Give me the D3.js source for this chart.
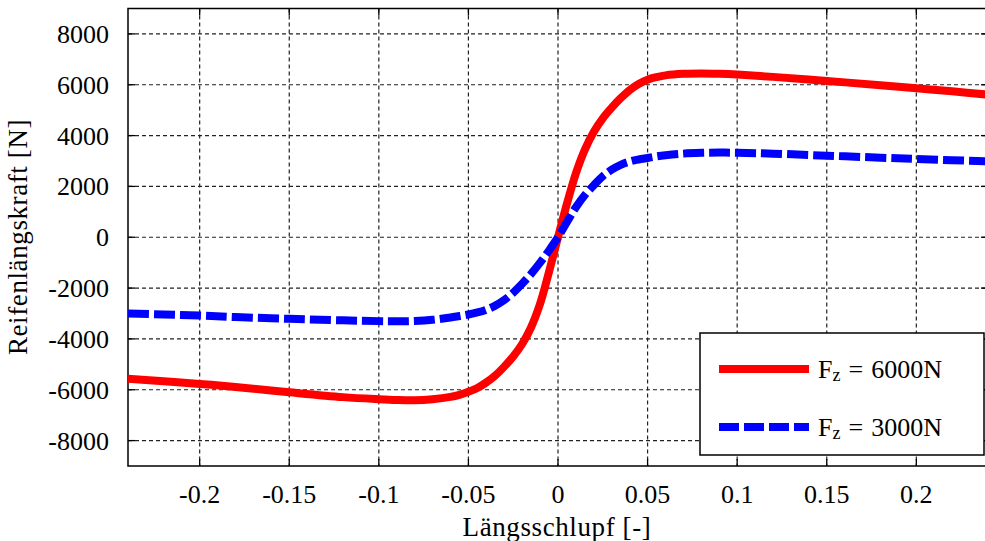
<!DOCTYPE html>
<html><head><meta charset="utf-8">
<script src="https://cdn.jsdelivr.net/npm/d3@7"></script>
<style>
body{margin:0;background:#fff;}
svg text{font-family:"Liberation Serif","Times New Roman",serif;fill:#000;}
</style></head>
<body><svg id="c" width="985" height="541"></svg>
<script>
// slip values (x) and longitudinal forces
const slip = [-0.24,-0.22,-0.2,-0.18,-0.15,-0.12,-0.1,-0.09,-0.08,-0.07,-0.06,-0.055,-0.05,-0.045,-0.04,-0.035,-0.03,-0.025,-0.02,-0.015,-0.01,-0.005,0,
  0.005,0.01,0.015,0.02,0.025,0.03,0.035,0.04,0.045,0.05,0.055,0.06,0.07,0.08,0.09,0.1,0.12,0.15,0.18,0.2,0.22,0.24];
const force6000 = [-5570,-5670,-5770,-5890,-6100,-6290,-6370,-6400,-6410,-6370,-6280,-6200,-6080,-5930,-5710,-5440,-5090,-4690,-4200,-3540,-2620,-1360,0,
  1320,2520,3450,4150,4680,5100,5470,5790,6030,6200,6300,6370,6430,6445,6430,6400,6310,6150,5980,5860,5740,5610];
const force3000 = [-3000,-3040,-3080,-3140,-3210,-3270,-3300,-3305,-3295,-3250,-3160,-3100,-3040,-2960,-2850,-2690,-2470,-2180,-1830,-1440,-1000,-520,0,
  600,1180,1660,2050,2400,2660,2850,2980,3060,3120,3180,3225,3290,3320,3330,3325,3290,3210,3130,3080,3030,2990];
const xTicks = [-0.2,-0.15,-0.1,-0.05,0,0.05,0.1,0.15,0.2];
const xTickLabels = ["-0.2","-0.15","-0.1","-0.05","0","0.05","0.1","0.15","0.2"];
const yTicks = [-8000,-6000,-4000,-2000,0,2000,4000,6000,8000];
const yTickLabels = ["-8000","-6000","-4000","-2000","0","2000","4000","6000","8000"];
const seriesNames = ["6000N","3000N"];

const svg = d3.select("#c");
const L=128, R=988, T=8.5, B=466;
const x = d3.scaleLinear().domain([-0.24,0.24]).range([L,R]);
const y = d3.scaleLinear().domain([-9000,9000]).range([B,T]);

// grid
const g = svg.append("g");
g.selectAll(".gx").data(xTicks).enter().append("line")
  .attr("x1",d=>x(d)).attr("x2",d=>x(d)).attr("y1",T).attr("y2",B)
  .attr("stroke","#222").attr("stroke-width",1.2).attr("stroke-dasharray","4,3");
g.selectAll(".gy").data(yTicks).enter().append("line")
  .attr("y1",d=>y(d)).attr("y2",d=>y(d)).attr("x1",L).attr("x2",R)
  .attr("stroke","#222").attr("stroke-width",1.2).attr("stroke-dasharray","4,3");

// ticks (inward)
const tl = 7;
xTicks.forEach(d=>{
  g.append("line").attr("x1",x(d)).attr("x2",x(d)).attr("y1",B).attr("y2",B-tl).attr("stroke","#000").attr("stroke-width",1.3);
  g.append("line").attr("x1",x(d)).attr("x2",x(d)).attr("y1",T).attr("y2",T+tl).attr("stroke","#000").attr("stroke-width",1.3);
});
yTicks.forEach(d=>{
  g.append("line").attr("x1",L).attr("x2",L+tl).attr("y1",y(d)).attr("y2",y(d)).attr("stroke","#000").attr("stroke-width",1.3);
  g.append("line").attr("x1",R).attr("x2",R-tl).attr("y1",y(d)).attr("y2",y(d)).attr("stroke","#000").attr("stroke-width",1.3);
});

// frame
svg.append("rect").attr("x",L).attr("y",T).attr("width",R-L).attr("height",B-T)
  .attr("fill","none").attr("stroke","#000").attr("stroke-width",1.5);

// tick labels
svg.selectAll(".xl").data(xTicks).enter().append("text")
  .attr("x",d=>x(d)).attr("y",503).attr("text-anchor","middle").attr("font-size",26)
  .text((d,i)=>xTickLabels[i]);
svg.selectAll(".yl").data(yTicks).enter().append("text")
  .attr("x",109).attr("y",d=>y(d)+9).attr("text-anchor","end").attr("font-size",26)
  .text((d,i)=>yTickLabels[i]);

// axis titles
svg.append("text").attr("x",557).attr("y",536).attr("text-anchor","middle")
  .attr("font-size",27).attr("letter-spacing",0.6).text("Längsschlupf [-]");
svg.append("text").attr("transform","translate(27,237) rotate(-90)").attr("text-anchor","middle")
  .attr("font-size",27).attr("letter-spacing",0.6).text("Reifenlängskraft [N]");

// curves
svg.append("clipPath").attr("id","pc").append("rect")
  .attr("x",L).attr("y",T).attr("width",R-L).attr("height",B-T);
const line = d3.line().x(d=>x(d[0])).y(d=>y(d[1])).curve(d3.curveCatmullRom.alpha(0.5));
const d6 = slip.map((s,i)=>[s,force6000[i]]);
const d3k = slip.map((s,i)=>[s,force3000[i]]);
svg.append("path").attr("d",line(d6)).attr("fill","none").attr("stroke","#ff0000")
  .attr("stroke-width",8).attr("clip-path","url(#pc)");
svg.append("path").attr("d",line(d3k)).attr("fill","none").attr("stroke","#0000ff")
  .attr("stroke-width",8).attr("stroke-dasharray","21,5").attr("clip-path","url(#pc)");

// legend
const lg = svg.append("g");
lg.append("rect").attr("x",700).attr("y",333).attr("width",284).attr("height",122)
  .attr("fill","#fff").attr("stroke","#000").attr("stroke-width",1.5);
const legendRows = [{name:seriesNames[0],color:"#ff0000",dash:null,yy:369},
                    {name:seriesNames[1],color:"#0000ff",dash:"20,5",yy:427}];
legendRows.forEach(r=>{
  const ln = lg.append("line").attr("x1",719).attr("x2",809).attr("y1",r.yy).attr("y2",r.yy)
    .attr("stroke",r.color).attr("stroke-width",8);
  if(r.dash) ln.attr("stroke-dasharray",r.dash);
  const t = lg.append("text").attr("x",818).attr("y",r.yy+9).attr("font-size",26);
  t.append("tspan").text("F");
  t.append("tspan").attr("font-size",18).attr("dy",3).text("z");
  t.append("tspan").attr("dy",-3).attr("dx",8).text("=");
  t.append("tspan").attr("dx",8).text(r.name);
});
</script></body></html>
